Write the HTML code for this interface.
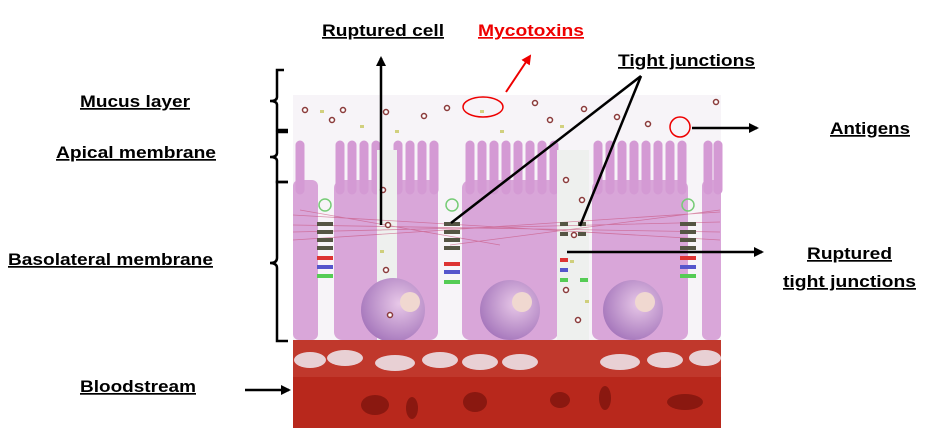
<!DOCTYPE html>
<html><head><style>
html,body{margin:0;padding:0;background:#fff;}
svg text{font-family:"Liberation Sans",sans-serif;font-weight:bold;font-size:17px;text-decoration:underline;}
</style></head><body>
<svg width="926" height="432" viewBox="0 0 926 432" xmlns="http://www.w3.org/2000/svg">
<defs>
<marker id="ah" markerWidth="10" markerHeight="10" refX="8" refY="5" orient="auto" markerUnits="userSpaceOnUse"><path d="M0,0 L10,5 L0,10 z" fill="#000"/></marker>
<marker id="ahr" markerWidth="10" markerHeight="10" refX="8" refY="5" orient="auto" markerUnits="userSpaceOnUse"><path d="M0,0 L10,5 L0,10 z" fill="#e00"/></marker>
<radialGradient id="nuc" cx="0.6" cy="0.4" r="0.7"><stop offset="0" stop-color="#e8c8e8"/><stop offset="1" stop-color="#a070b8"/></radialGradient>
</defs>
<rect x="293" y="95" width="428" height="250" fill="#f7f4f8"/>
<g fill="#d9a6d9">
<rect x="293" y="180" width="25" height="160" rx="6"/>
<rect x="334" y="180" width="104" height="160" rx="8"/>
<rect x="462" y="180" width="96" height="160" rx="8"/>
<rect x="592" y="180" width="96" height="160" rx="8"/>
<rect x="702" y="180" width="19" height="160" rx="6"/>
</g>
<g stroke="#d49ad4" stroke-width="9" stroke-linecap="round">
<path d="M300 145V190M340 145V190M352 145V190M364 145V190M376 145V190M398 145V190M410 145V190M422 145V190M434 145V190"/>
<path d="M470 145V190M482 145V190M494 145V190M506 145V190M518 145V190M530 145V190M542 145V190M554 145V190"/>
<path d="M598 145V190M610 145V190M622 145V190M634 145V190M646 145V190M658 145V190M670 145V190M682 145V190"/>
<path d="M708 145V190M718 145V190"/>
</g>
<rect x="377" y="150" width="20" height="195" fill="#eef0ee"/>
<rect x="557" y="150" width="32" height="195" fill="#eef0ee"/>
<g stroke="#c8507a" stroke-width="0.8" opacity="0.6">
<path d="M293 215L720 240M293 240L720 212M293 225L720 232M293 232L720 222M300 210L500 245M450 245L720 210"/>
</g>
<circle cx="393" cy="310" r="32" fill="url(#nuc)"/>
<circle cx="510" cy="310" r="30" fill="url(#nuc)"/>
<circle cx="633" cy="310" r="30" fill="url(#nuc)"/>
<circle cx="410" cy="302" r="10" fill="#f0d8d0"/>
<circle cx="522" cy="302" r="10" fill="#f0d8d0"/>
<circle cx="645" cy="302" r="10" fill="#f0d8d0"/>
<g>
<circle cx="325" cy="205" r="6" fill="none" stroke="#7c7" stroke-width="1.5"/>
<circle cx="452" cy="205" r="6" fill="none" stroke="#7c7" stroke-width="1.5"/>
<circle cx="688" cy="205" r="6" fill="none" stroke="#7c7" stroke-width="1.5"/>
<g fill="#554">
<rect x="317" y="222" width="16" height="4"/><rect x="317" y="230" width="16" height="4"/><rect x="317" y="238" width="16" height="4"/><rect x="317" y="246" width="16" height="4"/>
<rect x="444" y="222" width="16" height="4"/><rect x="444" y="230" width="16" height="4"/><rect x="444" y="238" width="16" height="4"/><rect x="444" y="246" width="16" height="4"/>
<rect x="680" y="222" width="16" height="4"/><rect x="680" y="230" width="16" height="4"/><rect x="680" y="238" width="16" height="4"/><rect x="680" y="246" width="16" height="4"/>
<rect x="560" y="222" width="8" height="4"/><rect x="578" y="222" width="8" height="4"/><rect x="560" y="232" width="8" height="4"/><rect x="578" y="232" width="8" height="4"/>
</g>
<g><rect x="317" y="256" width="16" height="4" fill="#d33"/><rect x="317" y="265" width="16" height="4" fill="#55c"/><rect x="317" y="274" width="16" height="4" fill="#5c5"/>
<rect x="444" y="262" width="16" height="4" fill="#d33"/><rect x="444" y="270" width="16" height="4" fill="#55c"/><rect x="444" y="280" width="16" height="4" fill="#5c5"/>
<rect x="680" y="256" width="16" height="4" fill="#d33"/><rect x="680" y="265" width="16" height="4" fill="#55c"/><rect x="680" y="274" width="16" height="4" fill="#5c5"/>
<rect x="560" y="258" width="8" height="4" fill="#d33"/><rect x="560" y="268" width="8" height="4" fill="#55c"/><rect x="560" y="278" width="8" height="4" fill="#5c5"/><rect x="580" y="278" width="8" height="4" fill="#5c5"/></g>
</g>
<g fill="#fff" stroke="#8a3a3a" stroke-width="1.5">
<circle cx="305" cy="110" r="2.5"/><circle cx="343" cy="110" r="2.5"/><circle cx="332" cy="120" r="2.5"/><circle cx="386" cy="112" r="2.5"/><circle cx="424" cy="116" r="2.5"/><circle cx="447" cy="108" r="2.5"/>
<circle cx="535" cy="103" r="2.5"/><circle cx="550" cy="120" r="2.5"/><circle cx="584" cy="109" r="2.5"/><circle cx="617" cy="117" r="2.5"/><circle cx="648" cy="124" r="2.5"/><circle cx="716" cy="102" r="2.5"/>
<circle cx="383" cy="190" r="2.5"/><circle cx="388" cy="225" r="2.5"/><circle cx="386" cy="270" r="2.5"/><circle cx="390" cy="315" r="2.5"/><circle cx="566" cy="180" r="2.5"/><circle cx="574" cy="235" r="2.5"/><circle cx="566" cy="290" r="2.5"/><circle cx="578" cy="320" r="2.5"/><circle cx="582" cy="200" r="2.5"/>
</g>
<g fill="#c8c860" opacity="0.8">
<rect x="320" y="110" width="4" height="3"/><rect x="360" y="125" width="4" height="3"/><rect x="395" y="130" width="4" height="3"/><rect x="480" y="110" width="4" height="3"/><rect x="500" y="130" width="4" height="3"/><rect x="560" y="125" width="4" height="3"/><rect x="380" y="250" width="4" height="3"/><rect x="570" y="260" width="4" height="3"/><rect x="585" y="300" width="4" height="3"/>
</g>
<rect x="293" y="340" width="428" height="37" fill="#c0382c"/>
<g fill="#e8d0d4">
<ellipse cx="310" cy="360" rx="16" ry="8"/><ellipse cx="345" cy="358" rx="18" ry="8"/><ellipse cx="395" cy="363" rx="20" ry="8"/><ellipse cx="440" cy="360" rx="18" ry="8"/><ellipse cx="480" cy="362" rx="18" ry="8"/><ellipse cx="520" cy="362" rx="18" ry="8"/><ellipse cx="620" cy="362" rx="20" ry="8"/><ellipse cx="665" cy="360" rx="18" ry="8"/><ellipse cx="705" cy="358" rx="16" ry="8"/>
</g>
<rect x="293" y="377" width="428" height="51" fill="#b8281c"/>
<g fill="#8a1810">
<ellipse cx="375" cy="405" rx="14" ry="10"/><ellipse cx="412" cy="408" rx="6" ry="11"/><ellipse cx="475" cy="402" rx="12" ry="10"/><ellipse cx="560" cy="400" rx="10" ry="8"/><ellipse cx="605" cy="398" rx="6" ry="12"/><ellipse cx="685" cy="402" rx="18" ry="8"/>
</g>
<g fill="none" stroke="#000" stroke-width="2.5">
<path d="M284 70H277V97Q277 101 270 101Q277 101 277 105V130H288"/>
<path d="M288 132H277V153Q277 157 270 157Q277 157 277 161V182H288"/>
<path d="M288 182H277V258Q277 263 270 263Q277 263 277 268V341H288"/>
</g>
<g stroke="#000" stroke-width="2.5" fill="none">
<line x1="381" y1="225" x2="381" y2="58" marker-end="url(#ah)"/>
<line x1="641" y1="76" x2="451" y2="223"/>
<line x1="641" y1="76" x2="580" y2="226"/>
<line x1="692" y1="128" x2="757" y2="128" marker-end="url(#ah)"/>
<line x1="567" y1="252" x2="762" y2="252" marker-end="url(#ah)"/>
<line x1="245" y1="390" x2="289" y2="390" marker-end="url(#ah)"/>
</g>
<line x1="506" y1="92" x2="530" y2="56" stroke="#e00" stroke-width="2" marker-end="url(#ahr)"/>
<ellipse cx="483" cy="107" rx="20" ry="10" fill="none" stroke="#e00" stroke-width="1.5"/>
<circle cx="680" cy="127" r="10" fill="none" stroke="#e00" stroke-width="1.5"/>
<text x="322" y="36" textLength="122" lengthAdjust="spacingAndGlyphs">Ruptured cell</text>
<text x="478" y="36" fill="#e00" textLength="106" lengthAdjust="spacingAndGlyphs">Mycotoxins</text>
<text x="618" y="66" textLength="137" lengthAdjust="spacingAndGlyphs">Tight junctions</text>
<text x="80" y="107" textLength="110" lengthAdjust="spacingAndGlyphs">Mucus layer</text>
<text x="56" y="158" textLength="160" lengthAdjust="spacingAndGlyphs">Apical membrane</text>
<text x="830" y="134" textLength="80" lengthAdjust="spacingAndGlyphs">Antigens</text>
<text x="8" y="265" textLength="205" lengthAdjust="spacingAndGlyphs">Basolateral membrane</text>
<text x="807" y="259" textLength="85" lengthAdjust="spacingAndGlyphs">Ruptured</text>
<text x="783" y="287" textLength="133" lengthAdjust="spacingAndGlyphs">tight junctions</text>
<text x="80" y="392" textLength="116" lengthAdjust="spacingAndGlyphs">Bloodstream</text>
</svg>
</body></html>
